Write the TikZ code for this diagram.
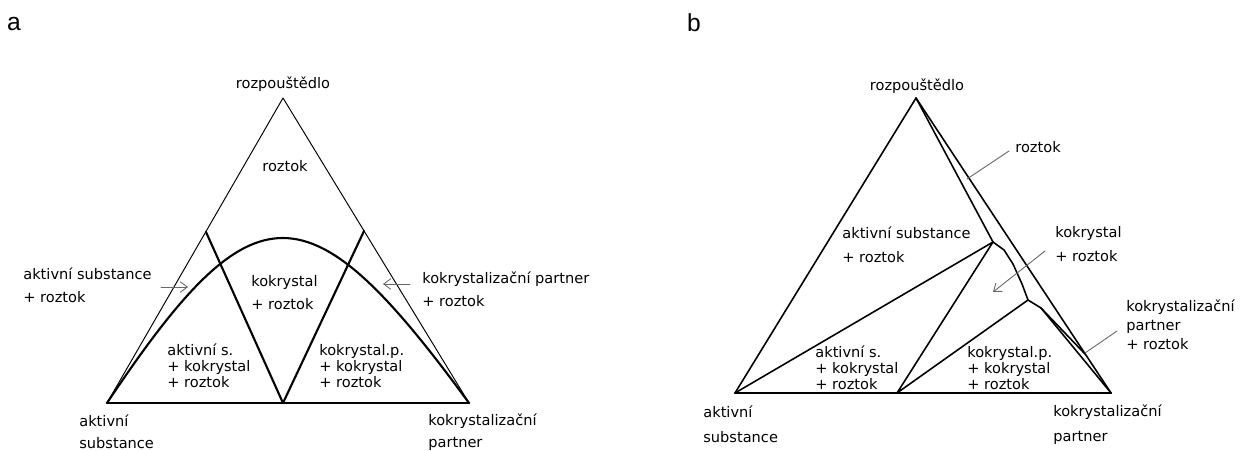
\documentclass[tikz,border=0pt]{standalone}
\usepackage{fontspec}
\setmainfont{DejaVu Sans}
\newfontfamily\panelfont{Liberation Sans}
\usepackage{tikz}
\usetikzlibrary{arrows.meta,calc,positioning}
\tikzset{
  lbl/.style={anchor=west, align=left, inner sep=0pt, font=\fontsize{8.3}{13}\selectfont},
  lbltight/.style={anchor=west, align=left, inner sep=0pt, font=\fontsize{8.3}{9.1}\selectfont},
  lblmid/.style={lbl, font=\fontsize{8.3}{10.8}\selectfont},
  thinline/.style={line width=0.55pt},
  thickline/.style={line width=1.2pt},
  midline/.style={line width=0.9pt},
  lead/.style={draw=black!60, line width=0.5pt},
  leadarr/.style={lead, -{Straight Barb[length=4pt,width=6pt]}},
  every picture/.style={line cap=round, line join=round}
}

\begin{document}
\begin{tikzpicture}
  \useasboundingbox (0,0) rectangle (25.04,9);
  % panel a
  \node[font=\panelfont\fontsize{14}{16}\selectfont, inner sep=0pt] (pa) at (0.28,8.52) {a};
  \coordinate (a1) at (5.66,7.04);
  \coordinate (a2) at (2.14,0.94);
  \coordinate (a3) at (9.38,0.94);
  \coordinate (am) at (5.66,0.94);
  \coordinate (al) at (4.12,4.36);
  \coordinate (ar) at (7.28,4.38);
  \draw[thinline] (a2)--(a1)--(a3);
  \draw[thickline] (a2)--(a3);
  \draw[thickline] (al)--(am)--(ar);
  \draw[thickline] (a2) .. controls (5.08,5.34) and (6.16,5.34) .. (a3);
  \node[lbl, anchor=center] (arozp) at (5.66,7.32) {rozpouštědlo};
  \node[lbl, anchor=center] (aroz) at (5.70,5.68) {roztok};
  \node[lbl] (aas) at (0.46,3.29) {aktivní substance\\+ roztok};
  \node[lbl] (akr) at (5.02,3.15) {kokrystal\\+ roztok};
  \node[lbl] (akp) at (8.44,3.21) {kokrystalizační partner\\+ roztok};
  \node[lbltight] (aask) at (3.34,1.68) {aktivní s.\\+ kokrystal\\+ roztok};
  \node[lbltight] (akpk) at (6.38,1.68) {kokrystal.p.\\+ kokrystal\\+ roztok};
  \node[lbl, font=\fontsize{8.3}{12.5}\selectfont] (acA) at (1.58,0.36) {aktivní\\substance};
  \node[lbl, font=\fontsize{8.3}{12.5}\selectfont] (acB) at (8.56,0.36) {kokrystalizační\\partner};
  \coordinate (aarl0) at (3.22,3.26);
  \coordinate (aarl1) at (3.76,3.26);
  \coordinate (aarr0) at (8.20,3.32);
  \coordinate (aarr1) at (7.66,3.32);
  \draw[leadarr] (aarl0)--(aarl1);
  \draw[leadarr] (aarr0)--(aarr1);

  % panel b
  \node[font=\panelfont\fontsize{14}{16}\selectfont, inner sep=0pt] (pb) at (13.88,8.54) {b};
  \coordinate (b1) at (18.32,7.04);
  \coordinate (b2) at (14.70,1.14);
  \coordinate (b3) at (22.22,1.14);
  \coordinate (bm) at (17.94,1.14);
  \coordinate (p1) at (19.86,4.16);
  \coordinate (p2) at (20.56,3.00);
  \coordinate (bq) at (20.82,2.84);
  \coordinate (bs) at (21.70,1.92);
  \draw[midline] (b2)--(b1)--(b3);
  \draw[thickline] (b2)--(b3);
  \draw[midline] (b1)--(p1);
  \draw[midline] (p1)--(20.08,4.00)--(20.26,3.72)--(20.44,3.32)--(p2)--(bq)--(b3);
  \draw[midline] (bq)--(bs);
  \draw[midline] (b2)--(p1)--(bm)--(p2);
  \node[lbl, anchor=center] (brozp) at (18.34,7.28) {rozpouštědlo};
  \node[lbl] (broz) at (20.30,6.06) {roztok};
  \node[lbl, font=\fontsize{8.3}{13.6}\selectfont] (bas) at (16.84,4.10) {aktivní substance\\+ roztok};
  \node[lbl, font=\fontsize{8.3}{13.6}\selectfont] (bkr) at (21.10,4.12) {kokrystal\\+ roztok};
  \node[lblmid] (bkp) at (22.52,2.50) {kokrystalizační\\partner\\+ roztok};
  \node[lbltight] (bask) at (16.30,1.64) {aktivní s.\\+ kokrystal\\+ roztok};
  \node[lbltight] (bkpk) at (19.34,1.64) {kokrystal.p.\\+ kokrystal\\+ roztok};
  \node[lbl, font=\fontsize{8.3}{14.2}\selectfont] (bcA) at (14.06,0.51) {aktivní\\substance};
  \node[lbl, font=\fontsize{8.3}{14.2}\selectfont] (bcB) at (21.06,0.50) {kokrystalizační\\partner};
  \coordinate (bl1a) at (20.18,5.98);
  \coordinate (bl1b) at (19.34,5.42);
  \coordinate (bl2a) at (22.34,2.38);
  \coordinate (bl2b) at (21.70,1.94);
  \coordinate (bar0) at (20.90,3.98);
  \coordinate (bar1) at (19.86,3.16);
  \draw[lead] (bl1a)--(bl1b);
  \draw[lead] (bl2a)--(bl2b);
  \draw[leadarr] (bar0)--(bar1);
\end{tikzpicture}
\end{document}
